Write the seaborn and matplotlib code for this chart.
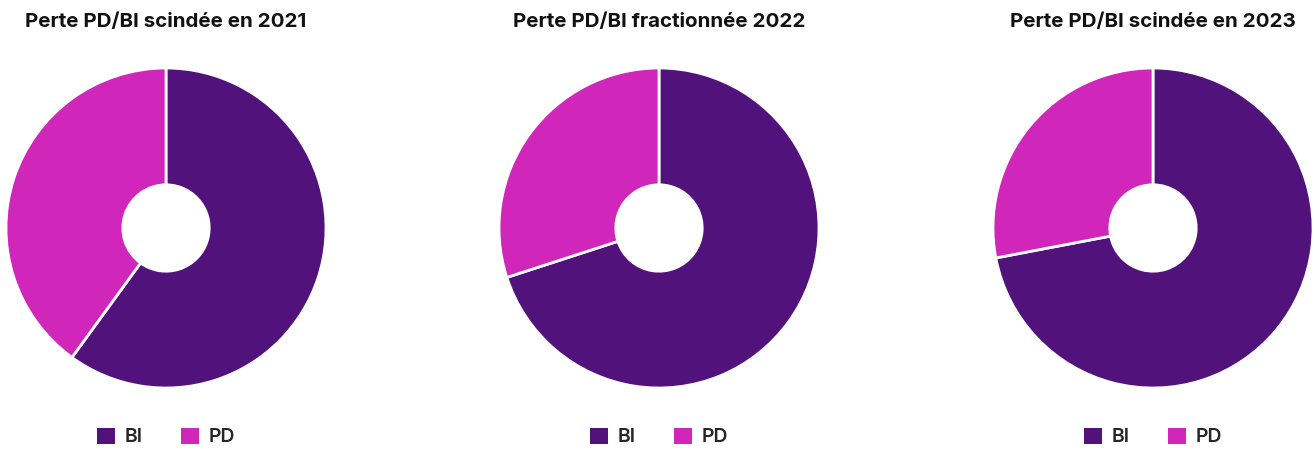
import seaborn as sns
import matplotlib.pyplot as plt
from matplotlib.patches import Patch

titles = ['Perte PD/BI scindée en 2021', 'Perte PD/BI fractionnée 2022', 'Perte PD/BI scindée en 2023']
labels = ['BI', 'PD']
bi_share = [60, 70, 72]
pd_share = [40, 30, 28]
colors = ['#52127B', '#D026B9']

sns.set_theme(style='white')
plt.rcParams['font.family'] = ['Inter', 'DejaVu Sans']

W, H = 1314, 451
fig = plt.figure(figsize=(W / 100, H / 100), dpi=100)

centers = [166, 659, 1153]
r = 160
cy = 228

for i in range(3):
    cx = centers[i]
    ax = fig.add_axes([(cx - r) / W, (H - cy - r) / H, 2 * r / W, 2 * r / H])
    ax.pie([bi_share[i], pd_share[i]], colors=colors, startangle=90, counterclock=False,
           radius=1, wedgeprops=dict(width=0.73, edgecolor='white', linewidth=2))
    ax.set_xlim(-1, 1)
    ax.set_ylim(-1, 1)
    ax.set_aspect('equal')
    ax.axis('off')

    fig.text(cx / W, 1 - 22 / H, titles[i], ha='center', va='center',
             fontsize=14.8, fontweight='bold', color='#111111')

    handles = [Patch(facecolor=c, edgecolor='none') for c in colors]
    fig.legend(handles, labels, loc='center', bbox_to_anchor=(cx / W, 1 - 437 / H),
               ncol=2, frameon=False, handlelength=0.9, handleheight=0.9,
               handletextpad=0.5, columnspacing=2.0,
               prop=dict(family=['Inter', 'DejaVu Sans'], size=14, weight='semibold'))

fig.savefig('out.png', dpi=100, facecolor='white')
